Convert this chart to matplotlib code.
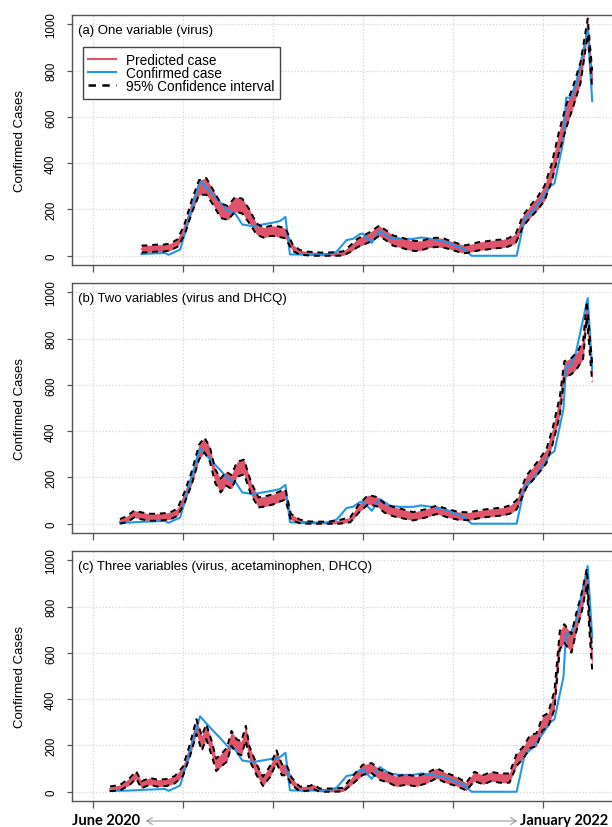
import matplotlib
matplotlib.use("Agg")
import matplotlib.pyplot as plt
import numpy as np

plt.rcParams['font.family'] = ['Liberation Sans', 'DejaVu Sans']

RED = '#DF536B'
BLUE = '#2297E6'

# confirmed cases (day index from June 2020)
conf_day = [20, 40, 54, 80, 84, 97, 119, 132, 141, 150, 158, 166, 178, 200, 208, 214, 219,
            240, 262, 271, 282, 289, 297, 300, 310, 319, 330, 341, 356, 365, 378, 393, 404,
            412, 421, 471, 480, 489, 500, 508, 513, 523, 526, 531, 537, 546, 550, 555]
conf_val = [4, 5, 8, 12, 4, 27, 326, 270, 234, 195, 183, 135, 128, 143, 150, 168, 6,
            5, 6, 18, 68, 73, 94, 96, 56, 107, 78, 73, 73, 79, 72, 60, 42,
            30, 0, 0, 161, 190, 251, 299, 313, 494, 683, 683, 741, 903, 975, 668]

# (a) one variable
pred_a_day = [54, 62, 70, 78, 86, 94, 102, 110, 118, 126, 134, 142, 150, 158, 166, 174, 182,
              190, 198, 206, 214, 222, 230, 238, 246, 254, 262, 270, 278, 286, 294, 302, 310,
              318, 326, 334, 342, 350, 358, 366, 374, 382, 390, 398, 406, 414, 422, 430, 438,
              446, 454, 462, 470, 478, 486, 494, 502, 510, 518, 526, 534, 542, 550, 555]
pred_a = [29, 30, 33, 33, 38, 55, 115, 215, 295, 300, 250, 195, 185, 222, 215, 170, 115,
          100, 108, 105, 97, 35, 15, 10, 8, 6, 6, 8, 10, 30, 55, 70, 85,
          108, 88, 65, 58, 48, 42, 45, 55, 58, 55, 45, 35, 28, 35, 42, 45,
          50, 52, 58, 75, 150, 190, 225, 270, 360, 490, 600, 690, 790, 990, 760]
ci_a = [15, 15, 15, 15, 15, 16, 24, 28, 32, 36, 32, 32, 30, 32, 32, 30, 24,
        22, 22, 22, 22, 14, 10, 8, 8, 8, 8, 8, 9, 14, 18, 20, 22,
        22, 22, 22, 22, 22, 22, 20, 20, 20, 20, 18, 18, 17, 17, 18, 18,
        18, 18, 18, 20, 24, 26, 28, 32, 38, 45, 50, 45, 45, 35, 40]

# (b) two variables
pred_b_day = [30, 38, 46, 54, 62, 70, 78, 86, 94, 102, 110, 118, 124, 130, 136, 142, 148,
              154, 160, 168, 176, 184, 192, 200, 208, 214, 220, 230, 240, 250, 262, 274, 286,
              296, 306, 316, 324, 334, 342, 356, 370, 382, 394, 406, 418, 428, 438, 448, 456,
              464, 471, 482, 493, 504, 511, 519, 524, 532, 539, 545, 549, 555]
pred_b = [10, 20, 42, 34, 28, 28, 30, 34, 50, 115, 200, 310, 340, 300, 205, 165, 195,
          180, 235, 245, 150, 92, 97, 105, 118, 126, 30, 10, 4, 3, 3, 8, 17,
          68, 104, 95, 68, 52, 45, 32, 45, 60, 46, 34, 32, 40, 46, 50, 53,
          62, 82, 183, 234, 291, 378, 508, 667, 681, 710, 753, 926, 652]
ci_b = [10, 13, 15, 15, 15, 15, 15, 15, 16, 24, 28, 32, 32, 32, 30, 30, 30,
        30, 32, 32, 27, 22, 22, 22, 22, 22, 13, 8, 6, 6, 6, 8, 11,
        18, 20, 20, 20, 20, 20, 18, 18, 18, 18, 17, 17, 17, 17, 17, 17,
        18, 20, 26, 28, 30, 35, 40, 35, 35, 35, 40, 35, 40]

# (c) three variables
pred_c_day = [19, 30, 41, 48, 54, 63, 72, 82, 91, 100, 108, 115, 121, 126, 132, 137, 143,
              149, 154, 160, 165, 170, 174, 182, 189, 197, 204, 210, 215, 221, 230, 241, 245,
              252, 267, 278, 289, 300, 310, 319, 330, 337, 348, 360, 371, 382, 393, 404, 415,
              424, 434, 443, 452, 463, 471, 478, 486, 493, 500, 506, 513, 519, 524, 532, 537,
              544, 549, 552, 555]
pred_c = [13, 17, 45, 73, 30, 45, 37, 40, 52, 88, 181, 282, 210, 260, 188, 116, 138,
          160, 231, 196, 188, 253, 166, 95, 45, 88, 152, 95, 95, 45, 12, 15, 22,
          6, 6, 9, 52, 95, 102, 73, 59, 45, 52, 45, 59, 80, 59, 45, 22,
          66, 52, 66, 59, 59, 138, 167, 217, 224, 296, 310, 396, 655, 684, 641, 727,
          828, 928, 727, 570]
ci_c = [10, 12, 15, 16, 15, 15, 15, 15, 16, 20, 27, 32, 32, 32, 32, 27, 27,
        30, 32, 30, 30, 32, 30, 24, 20, 24, 27, 24, 24, 16, 10, 10, 10,
        8, 8, 8, 17, 22, 22, 22, 22, 22, 22, 22, 22, 22, 22, 20, 17,
        20, 20, 20, 20, 20, 26, 26, 28, 28, 30, 30, 40, 40, 40, 40, 40,
        40, 35, 40, 45]

panels = [
    ("(a) One variable (virus)", pred_a_day, pred_a, ci_a),
    ("(b) Two variables (virus and DHCQ)", pred_b_day, pred_b, ci_b),
    ("(c) Three variables (virus, acetaminophen, DHCQ)", pred_c_day, pred_c, ci_c),
]

fig = plt.figure(figsize=(6.12, 8.28), dpi=100)
bottoms = [0.6787, 0.3551, 0.0314]

for (title, pday, pval, ci), bot in zip(panels, bottoms):
    ax = fig.add_axes([0.1176, bot, 0.895, 0.3019])
    pday = np.array(pday)
    pval = np.array(pval, dtype=float)
    ci = np.array(ci, dtype=float)
    lo = np.clip(pval - ci, 0, None)
    hi = pval + ci

    # confirmed series starts where the predictions start
    cd = np.array(conf_day)
    cv = np.array(conf_val)
    keep = cd >= pday[0]
    cd = np.concatenate([[pday[0]], cd[keep]])
    cv = np.concatenate([[np.interp(pday[0], conf_day, conf_val)], cv[keep]])

    ax.fill_between(pday, lo, hi, color=RED, lw=0, zorder=2)
    ax.plot(pday, pval, color=RED, lw=1.2, zorder=3)
    ax.plot(cd, cv, color=BLUE, lw=1.5, zorder=4)
    ax.plot(pday, hi, color='black', lw=1.4, ls=(0, (3, 2.5)), zorder=5)
    ax.plot(pday, lo, color='black', lw=1.4, ls=(0, (3, 2.5)), zorder=5)

    ax.set_xlim(-23.3, 585.6)
    ax.set_ylim(-40, 1040)
    ax.set_xticks(np.arange(0, 501, 100))
    ax.set_xticklabels([])
    ax.set_yticks(np.arange(0, 1001, 200))
    ax.set_yticklabels([str(v) for v in range(0, 1001, 200)], rotation=90, va='center', fontsize=8.3)
    ax.grid(True, ls=':', color='#d4d4d4', lw=0.9)
    ax.set_axisbelow(True)
    ax.tick_params(axis='y', direction='out', length=3.6, width=0.9, color='#555555', pad=7)
    ax.tick_params(axis='x', direction='out', length=5, width=0.9, color='#555555')
    for s in ax.spines.values():
        s.set_color('#555555')
        s.set_linewidth(1.0)
    ax.set_ylabel("Confirmed Cases", fontsize=9.5)
    ax.yaxis.set_label_coords(-0.084, 0.5)
    ax.text(0.011, 0.94, title, transform=ax.transAxes, fontsize=9.5, va='center', ha='left')

    if title.startswith("(a)"):
        ax.plot([], [], color=RED, lw=1.5, label="Predicted case")
        ax.plot([], [], color=BLUE, lw=1.5, label="Confirmed case")
        ax.plot([], [], color='black', lw=1.8, ls=(0, (3, 2.5)), label="95% Confidence interval")
        leg = ax.legend(loc='upper left', bbox_to_anchor=(0.02, 0.872), fontsize=9.8,
                        fancybox=False, edgecolor='#444444', framealpha=1,
                        handlelength=2.0, handletextpad=0.8, labelspacing=-0.05,
                        borderpad=0.4, borderaxespad=0)
        leg.get_frame().set_linewidth(1.0)

fig.text(72 / 612, 1 - 821 / 828, "June 2020", fontsize=10.5, fontweight='bold',
         family='Lato', ha='left', va='center')
fig.text(608 / 612, 1 - 821 / 828, "January 2022", fontsize=10.5, fontweight='bold',
         family='Lato', ha='right', va='center')
fig.add_artist(matplotlib.patches.FancyArrowPatch(
    (143 / 612, 1 - 822 / 828), (520 / 612, 1 - 822 / 828), transform=fig.transFigure,
    arrowstyle='<->,head_length=4,head_width=2.5', color='#999999', lw=0.8))

fig.savefig("out.png", dpi=100)
